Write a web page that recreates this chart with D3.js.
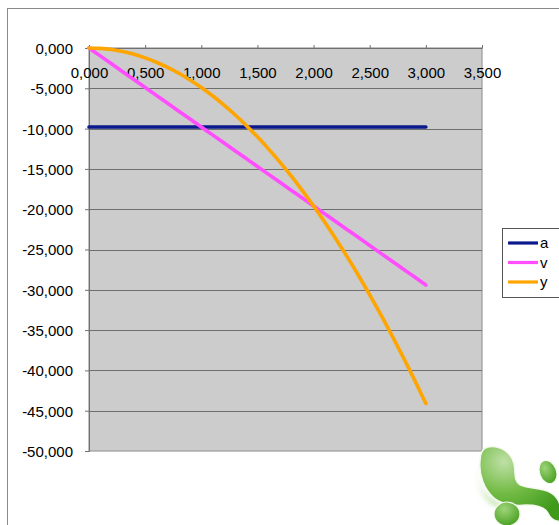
<!DOCTYPE html>
<html>
<head>
<meta charset="utf-8">
<script src="https://cdn.jsdelivr.net/npm/d3@7"></script>
<style>
  html, body { margin: 0; padding: 0; background: #fff; }
  svg { display: block; }
  text { font-family: "Liberation Sans", Arial, sans-serif; font-size: 15px; fill: #000; }
</style>
</head>
<body>
<svg id="chart" width="559" height="525"></svg>
<script>
// time samples (s)
const times = [0.0, 0.1, 0.2, 0.3, 0.4, 0.5, 0.6, 0.7, 0.8, 0.9, 1.0,
               1.1, 1.2, 1.3, 1.4, 1.5, 1.6, 1.7, 1.8, 1.9, 2.0,
               2.1, 2.2, 2.3, 2.4, 2.5, 2.6, 2.7, 2.8, 2.9, 3.0];
// acceleration a (m/s²)
const aValues = [-9.8, -9.8, -9.8, -9.8, -9.8, -9.8, -9.8, -9.8, -9.8, -9.8, -9.8,
                 -9.8, -9.8, -9.8, -9.8, -9.8, -9.8, -9.8, -9.8, -9.8, -9.8,
                 -9.8, -9.8, -9.8, -9.8, -9.8, -9.8, -9.8, -9.8, -9.8, -9.8];
// velocity v (m/s)
const vValues = [0, -0.98, -1.96, -2.94, -3.92, -4.9, -5.88, -6.86, -7.84, -8.82, -9.8,
                 -10.78, -11.76, -12.74, -13.72, -14.7, -15.68, -16.66, -17.64, -18.62, -19.6,
                 -20.58, -21.56, -22.54, -23.52, -24.5, -25.48, -26.46, -27.44, -28.42, -29.4];
// position y (m)
const yValues = [0, -0.049, -0.196, -0.441, -0.784, -1.225, -1.764, -2.401, -3.136, -3.969, -4.9,
                 -5.929, -7.056, -8.281, -9.604, -11.025, -12.544, -14.161, -15.876, -17.689, -19.6,
                 -21.609, -23.716, -25.921, -28.224, -30.625, -33.124, -35.721, -38.416, -41.209, -44.1];
const seriesNames = ["a", "v", "y"];
const xTicks = [0, 0.5, 1, 1.5, 2, 2.5, 3, 3.5];
const yTicks = [0, -5, -10, -15, -20, -25, -30, -35, -40, -45, -50];

const colors = { a: "#0a1a8c", v: "#ff4dff", y: "#ffa500" };
const seriesData = { a: aValues, v: vValues, y: yValues };

const svg = d3.select("#chart");
const plot = { left: 89, top: 48, right: 482, bottom: 451 };

const x = d3.scaleLinear().domain([0, 3.5]).range([plot.left, plot.right]);
const y = d3.scaleLinear().domain([0, -50]).range([plot.top, plot.bottom]);
// decimal comma, plain hyphen for negatives
const fmt = v => d3.format(".3f")(v).replace("\u2212", "-").replace(".", ",");

// chart frame
svg.append("rect")
  .attr("x", 7.5).attr("y", 8.5).attr("width", 600).attr("height", 600)
  .attr("fill", "#fff").attr("stroke", "#8a8a8a").attr("stroke-width", 1);

// plot area
svg.append("rect")
  .attr("x", plot.left).attr("y", plot.top)
  .attr("width", plot.right - plot.left).attr("height", plot.bottom - plot.top)
  .attr("fill", "#cccccc")
  .attr("stroke", "#9a9a9a").attr("stroke-width", 1.2);

// horizontal gridlines
svg.append("g").selectAll("line")
  .data(yTicks.filter(d => d !== 0 && d !== -50))
  .join("line")
  .attr("x1", plot.left).attr("x2", plot.right)
  .attr("y1", d => Math.round(y(d)) + 0.5).attr("y2", d => Math.round(y(d)) + 0.5)
  .attr("stroke", "#6e6e6e").attr("stroke-width", 1);

// y axis
const yAxis = d3.axisLeft(y).tickValues(yTicks).tickSize(4).tickPadding(12).tickFormat(fmt);
const gy = svg.append("g").attr("transform", `translate(${plot.left},0)`).call(yAxis);
gy.select(".domain").attr("stroke", "#707070");
gy.selectAll(".tick line").attr("stroke", "#707070");
gy.selectAll("text").attr("font-size", null).attr("font-family", null).attr("fill", "#000")
  .attr("dy", "0.36em");

// x axis along y = 0, ticks pointing into the plot, labels below
const xAxis = d3.axisBottom(x).tickValues(xTicks).tickSize(0).tickPadding(0).tickFormat(fmt);
const gx = svg.append("g").attr("transform", `translate(0,${y(0)})`).call(xAxis);
gx.select(".domain").attr("stroke", "#707070");
gx.selectAll("text").attr("font-size", null).attr("font-family", null).attr("fill", "#000")
  .attr("y", 25).attr("dy", "0.36em");
gx.selectAll(".tick").append("line")
  .attr("y1", -3).attr("y2", 0).attr("stroke", "#707070");

// series lines
const line = d3.line().x((d, i) => x(times[i])).y(d => y(d)).curve(d3.curveMonotoneX);
svg.append("g").selectAll("path")
  .data(seriesNames)
  .join("path")
  .attr("d", n => line(seriesData[n]))
  .attr("fill", "none")
  .attr("stroke", n => colors[n])
  .attr("stroke-width", 3.6)
  .attr("stroke-linecap", "round")
  .attr("stroke-linejoin", "round");

// legend
const lg = svg.append("g");
lg.append("rect").attr("x", 502.5).attr("y", 228.5).attr("width", 80).attr("height", 69)
  .attr("fill", "#fff").attr("stroke", "#555").attr("stroke-width", 1);
const items = lg.selectAll("g.item").data(seriesNames).join("g")
  .attr("transform", (d, i) => `translate(0,${243 + i * 19.5})`);
items.append("line").attr("x1", 508).attr("x2", 538).attr("y1", 0).attr("y2", 0)
  .attr("stroke", d => colors[d]).attr("stroke-width", 3.2);
items.append("text").attr("x", 540).attr("y", 0).attr("dy", "0.36em").text(d => d);

// logo mark in the lower right corner
const defs = svg.append("defs");
const g1 = defs.append("radialGradient").attr("id", "blobGrad")
  .attr("cx", "30%").attr("cy", "20%").attr("r", "85%");
g1.append("stop").attr("offset", "0%").attr("stop-color", "#bfe0a6");
g1.append("stop").attr("offset", "50%").attr("stop-color", "#72bb44");
g1.append("stop").attr("offset", "100%").attr("stop-color", "#3f9a1c");
const g2 = defs.append("radialGradient").attr("id", "dotGrad")
  .attr("cx", "40%").attr("cy", "30%").attr("r", "75%");
g2.append("stop").attr("offset", "0%").attr("stop-color", "#9fd47a");
g2.append("stop").attr("offset", "100%").attr("stop-color", "#459e1e");
const g3 = defs.append("linearGradient").attr("id", "shadowGrad")
  .attr("x1", "100%").attr("y1", "0%").attr("x2", "0%").attr("y2", "0%");
g3.append("stop").attr("offset", "0%").attr("stop-color", "#7cc44e").attr("stop-opacity", 0.6);
g3.append("stop").attr("offset", "100%").attr("stop-color", "#7cc44e").attr("stop-opacity", 0);
defs.append("filter").attr("id", "soft").append("feGaussianBlur").attr("stdDeviation", 2);

const logo = svg.append("g");
logo.append("path")
  .attr("d", "M483,462 C474,478 484,496 504,506 L494,506 C476,497 468,478 483,462 Z")
  .attr("fill", "url(#shadowGrad)").attr("filter", "url(#soft)");
logo.append("path")
  .attr("d", "M488,447 C500,445 511,452 514,464 C516,473 513,480 520,485 " +
             "C528,489 542,487 551,493 C559,498 561,506 560,512 L560,521 " +
             "C555,522 550,518 548,513 C545,507 536,505 526,505 " +
             "C515,506 503,505 494,498 C484,489 479,475 480,462 C480,453 483,448 488,447 Z")
  .attr("fill", "url(#blobGrad)").attr("stroke", "#f4f8ee").attr("stroke-width", 1.3);
logo.append("ellipse").attr("cx", 548).attr("cy", 472).attr("rx", 8.5).attr("ry", 12)
  .attr("transform", "rotate(-20,548,472)")
  .attr("fill", "url(#dotGrad)").attr("stroke", "#f4f8ee").attr("stroke-width", 1.2);
logo.append("ellipse").attr("cx", 507).attr("cy", 514).attr("rx", 13).attr("ry", 12)
  .attr("fill", "url(#dotGrad)").attr("stroke", "#f4f8ee").attr("stroke-width", 1.2);
</script>
</body>
</html>
